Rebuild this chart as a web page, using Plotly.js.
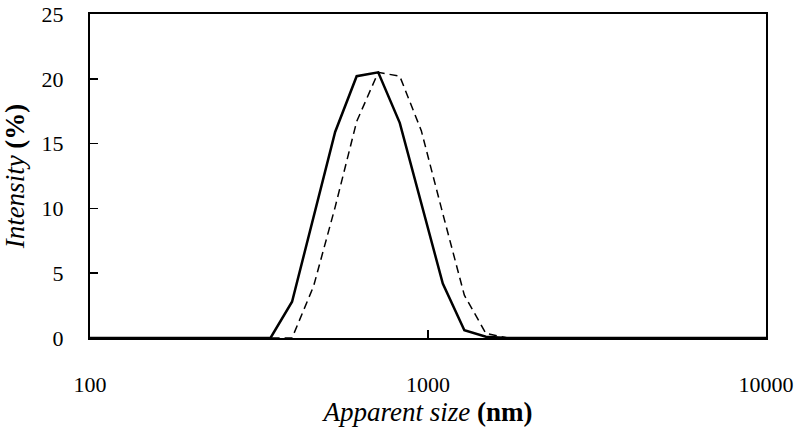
<!DOCTYPE html>
<html>
<head>
<meta charset="utf-8">
<script src="https://cdn.plot.ly/plotly-3.0.1.min.js"></script>
<style>
  html, body { margin: 0; padding: 0; background: #fff; }
  #myPlot { width: 796px; height: 429px; }
</style>
</head>
<body>
<div id="myPlot"></div>
<script>
/**
 * Size bins (nm) and intensity distributions (%)
 */
const sizes = [91.28, 105.7, 122.4, 141.8, 164.2, 190.1, 220.2, 255.0, 295.3,
  342.0, 396.1, 458.7, 531.2, 615.1, 712.4, 825.0, 955.4, 1106, 1281, 1484,
  1718, 1990, 2305, 2669, 3091, 3580, 4145, 4801, 5560, 6439, 7456, 8635, 10000];

const intensitySolid = [0, 0, 0, 0, 0, 0, 0, 0, 0,
  0, 2.8, 9.3, 15.9, 20.2, 20.5, 16.6, 10.4, 4.2, 0.6, 0.1,
  0, 0, 0, 0, 0, 0, 0, 0, 0, 0, 0, 0, 0];

const intensityDashed = [0, 0, 0, 0, 0, 0, 0, 0, 0,
  0, 0, 4.0, 10.1, 16.7, 20.5, 20.2, 16.0, 9.6, 3.3, 0.35,
  0, 0, 0, 0, 0, 0, 0, 0, 0, 0, 0, 0, 0];

const xTicks = [100, 1000, 10000];
const yTicks = [0, 5, 10, 15, 20, 25];

const font = "Liberation Serif, Times New Roman, serif";

const myPlot = document.getElementById("myPlot");

const data = [
  {
    type: "scatter",
    mode: "lines",
    x: sizes,
    y: intensityDashed,
    line: { color: "#000", width: 1.5, dash: "8px,5px" },
    showlegend: false
  },
  {
    type: "scatter",
    mode: "lines",
    x: sizes,
    y: intensitySolid,
    line: { color: "#000", width: 2.5 },
    showlegend: false
  }
];

const layout = {
  width: 796,
  height: 429,
  margin: { l: 90, r: 30, t: 14, b: 91 },
  paper_bgcolor: "#fff",
  plot_bgcolor: "#fff",
  font: { family: font, size: 22, color: "#000" },
  xaxis: {
    type: "log",
    range: [2, 4],
    tickvals: xTicks,
    ticktext: xTicks.map(String),
    ticks: "inside",
    ticklen: 8,
    tickwidth: 1.5,
    tickcolor: "#000",
    showline: true,
    linecolor: "#000",
    linewidth: 2,
    mirror: true,
    showgrid: false,
    zeroline: false,
    ticklabelstandoff: 26,
    title: {
      text: "<i>Apparent size</i> <b>(nm)</b>",
      font: { family: font, size: 27 },
      standoff: 4
    }
  },
  yaxis: {
    range: [0, 25],
    tickvals: yTicks,
    ticks: "inside",
    ticklen: 8,
    tickwidth: 1.5,
    tickcolor: "#000",
    showline: true,
    linecolor: "#000",
    linewidth: 2,
    mirror: true,
    showgrid: false,
    zeroline: false,
    ticklabelstandoff: 20,
    title: {
      text: "<i>Intensity</i> <b>(%)</b>",
      font: { family: font, size: 27 },
      standoff: 10
    }
  }
};

Plotly.newPlot(myPlot, data, layout, { staticPlot: true });
</script>
</body>
</html>
